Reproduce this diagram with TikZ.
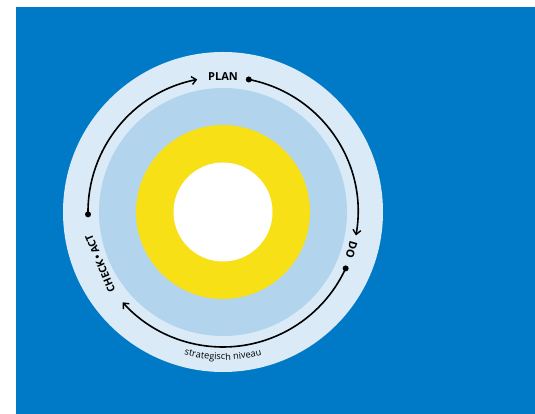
\documentclass[tikz,border=0pt]{standalone}
\usepackage{fontspec}
\setmainfont{Open Sans}
\usetikzlibrary{arrows.meta,decorations.text}
\definecolor{bgblue}{HTML}{0079C6}
\definecolor{ringlight}{HTML}{DAEBF7}
\definecolor{ringmid}{HTML}{B2D4EC}
\definecolor{ringyellow}{HTML}{F8E016}
\begin{document}
\begin{tikzpicture}[x=1pt,y=1pt,
  cyclearc/.style={line width=1.6pt,-{Straight Barb[length=4.5pt,width=8pt,line width=1.4pt]}},
  enddot/.style={fill=black,circle,inner sep=0pt,minimum size=6pt},
  phase/.style={font=\fontsize{11}{13}\selectfont\bfseries,inner sep=0pt}]
\useasboundingbox (0,0) rectangle (535,414);
\fill[bgblue] (16,0) rectangle (535,407);
\coordinate (c) at (223,202);
\fill[ringlight] (c) circle[radius=160];
\fill[ringmid] (c) circle[radius=124];
\fill[ringyellow] (c) circle[radius=87];
\fill[white] (c) circle[radius=49.5];
% arcs
\path (c) ++(79:135) coordinate (s1);
\path (c) ++(-24.7:135) coordinate (s2);
\path (c) ++(181:135) coordinate (s3);
\draw[cyclearc] (s1) arc[start angle=79, end angle=-10, radius=135];
\draw[cyclearc] (s2) arc[start angle=-24.7, end angle=-138, radius=135];
\draw[cyclearc] (s3) arc[start angle=181, end angle=101, radius=135];
\node[enddot] (d1) at (s1) {};
\node[enddot] (d2) at (s2) {};
\node[enddot] (d3) at (s3) {};
% labels
\node[phase] (plan) at ([shift={(90:135)}]c) {PLAN};
\node[phase,rotate=-106.3] (do) at ([shift={(-16.3:134)}]c) {DO};
\node[phase,font=\fontsize{10.5}{12}\selectfont\bfseries,rotate=112.7] (checkact) at ([shift={(202.7:133)}]c) {CHECK\,•\,ACT};
\path[decoration={text along path,text align=center,
  text={|\fontsize{9.3}{11}\selectfont|strategisch niveau}},decorate]
  (c) ++(238:148) arc[start angle=238, end angle=302, radius=148];
\end{tikzpicture}
\end{document}
